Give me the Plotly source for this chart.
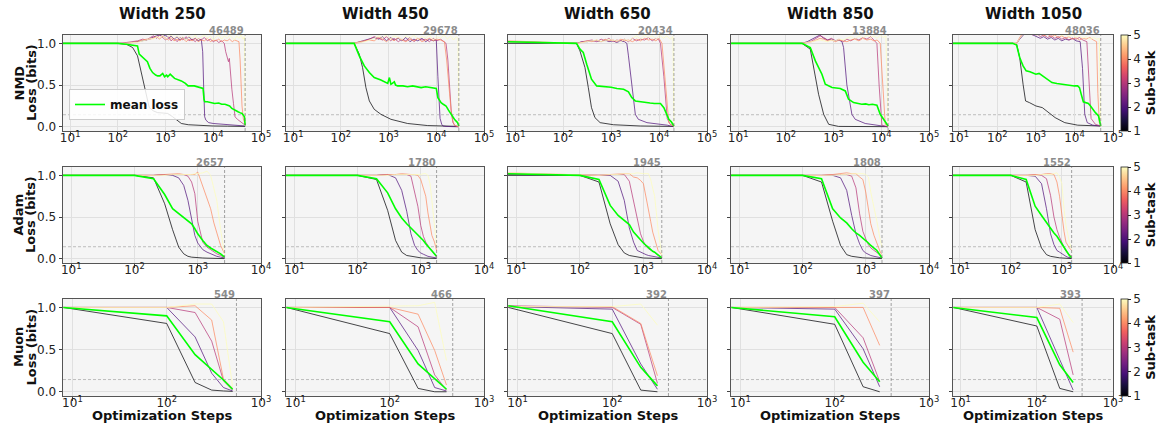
import math
import plotly.graph_objects as go

# ---------------- data ----------------
widths = [250, 450, 650, 850, 1050]
optimizers = ["NMD", "Adam", "Muon"]
subtasks = [1, 2, 3, 4, 5]
nmd_final = [46489, 29678, 20434, 13884, 48036]
adam_final = [2657, 1780, 1945, 1808, 1552]
muon_final = [549, 466, 392, 397, 393]
threshold = 0.145

# NMD, width 250
nmd250_grid = [7, 100, 150, 200, 260, 330, 400, 480, 560, 650, 750, 870, 1000, 1150, 1300, 1500, 1750, 2000, 2300, 2700, 3100, 3600, 4200, 4800, 5600]
nmd250_s1_x = [7, 100, 150, 204, 258, 330, 390, 455, 560, 680, 900, 1110, 1410, 1700, 2140, 3000, 5600, 10000, 20000, 46489]
nmd250_s1_y = [1.0, 1.0, 0.99, 0.95, 0.85, 0.59, 0.39, 0.23, 0.19, 0.17, 0.165, 0.16, 0.12, 0.08, 0.04, 0.025, 0.015, 0.01, 0.008, 0.005]
nmd250_s2_x = nmd250_grid + [6000, 6300, 6600, 7000, 8000, 10000, 15000, 25000, 46489]
nmd250_s2_y = [1.0, 1.0, 1.0, 1.01, 1.02, 1.03, 1.04, 1.06, 1.08, 1.09, 1.1, 1.08, 1.1, 1.06, 1.09, 1.05, 1.08, 1.04, 1.07, 1.05, 1.08, 1.04, 1.06, 1.03, 1.05,
               0.9, 0.45, 0.12, 0.08, 0.05, 0.04, 0.03, 0.02, 0.01]
nmd250_s3_x = nmd250_grid + [6500, 7500, 8700, 10000, 11500, 13000, 15000, 17000, 18200, 19500, 20800, 21700, 22600, 23500, 24500, 26500, 28600, 32000, 36000, 40000, 46489]
nmd250_s3_y = [1.0, 1.0, 1.01, 1.02, 1.03, 1.05, 1.04, 1.07, 1.09, 1.06, 1.1, 1.07, 1.04, 1.08, 1.03, 1.06, 1.02, 1.07, 1.04, 1.08, 1.03, 1.05, 1.02, 1.06, 1.04,
               1.07, 1.03, 1.05, 1.02, 1.04, 1.01, 1.03, 1.0, 0.9, 0.85, 0.78, 0.82, 0.65, 0.6, 0.45, 0.28, 0.12, 0.09, 0.07, 0.05, 0.02]
nmd250_s4_x = nmd250_grid + [6500, 7500, 8700, 10000, 11500, 13000, 15000, 17000, 19500, 22000, 25000, 28000, 31000, 34500, 36500, 38000, 40000, 42500, 46489]
nmd250_s4_y = [1.0, 1.0, 1.0, 1.01, 1.02, 1.04, 1.05, 1.05, 1.07, 1.08, 1.05, 1.09, 1.06, 1.04, 1.07, 1.03, 1.05, 1.03, 1.06, 1.02, 1.05, 1.03, 1.06, 1.02, 1.04,
               1.03, 1.06, 1.02, 1.04, 1.03, 1.05, 1.02, 1.04, 1.03, 1.05, 1.02, 1.04, 1.03, 1.02, 0.8, 0.5, 0.25, 0.1, 0.02]
nmd250_s5_x = nmd250_grid + [6500, 7500, 8700, 10000, 11500, 13000, 15000, 17000, 19500, 22000, 25000, 28000, 31000, 34500, 38000, 42000, 45000, 46489]
nmd250_s5_y = [1.0, 1.0, 1.0, 1.01, 1.01, 1.03, 1.04, 1.06, 1.05, 1.08, 1.07, 1.09, 1.05, 1.08, 1.1, 1.06, 1.09, 1.05, 1.08, 1.04, 1.09, 1.06, 1.1, 1.05, 1.08,
               1.1, 1.06, 1.09, 1.04, 1.08, 1.1, 1.05, 1.09, 1.06, 1.1, 1.07, 1.04, 1.09, 1.06, 1.1, 1.05, 1.08, 0.01]
nmd250_mean_x = [7, 100, 150, 200, 258, 280, 330, 380, 416, 470, 535, 620, 680, 760, 870, 950, 1050, 1110, 1250, 1540, 2140, 2600, 2960, 4000, 4800,
                 5800, 6100, 6400, 6600, 7500, 8500, 10700, 13000, 15000, 17600, 20000, 22000, 24500, 27000, 29000, 33000, 36000, 40000, 42500, 45000, 46489]
nmd250_mean_y = [1.0, 1.0, 0.99, 0.98, 0.97, 0.87, 0.83, 0.8, 0.78, 0.7, 0.65, 0.62, 0.61, 0.61, 0.64, 0.6, 0.62, 0.6, 0.63, 0.58, 0.55, 0.52, 0.49, 0.49, 0.48,
                 0.47, 0.46, 0.33, 0.3, 0.3, 0.29, 0.28, 0.285, 0.27, 0.27, 0.26, 0.25, 0.22, 0.21, 0.2, 0.18, 0.17, 0.16, 0.14, 0.12, 0.02]

# NMD, width 450
nmd450_grid = [7, 100, 190, 250, 320, 400, 500, 620, 750, 900, 1100, 1300, 1600, 1900, 2300, 2800, 3400, 4100, 5000, 6000, 7200, 8600]
nmd450_s1_x = [7, 100, 190, 243, 285, 335, 395, 500, 690, 1120, 2500, 6600, 15000, 29678]
nmd450_s1_y = [1.0, 1.0, 1.0, 0.87, 0.71, 0.47, 0.31, 0.21, 0.15, 0.09, 0.04, 0.015, 0.008, 0.005]
nmd450_s2_x = nmd450_grid + [10000, 10800, 12000, 13000, 13800, 16000, 20000, 29678]
nmd450_s2_y = [1.0, 1.0, 1.0, 1.02, 1.04, 1.06, 1.07, 1.05, 1.08, 1.03, 1.07, 1.04, 1.06, 1.03, 1.07, 1.02, 1.05, 1.03, 1.06, 1.02, 1.05, 1.03,
               1.04, 0.6, 0.1, 0.03, 0.01, 0.005, 0.0, 0.0]
nmd450_s3_x = nmd450_grid + [10300, 12300, 14500, 16000, 17500, 19000, 20500, 22300, 25000, 29678]
nmd450_s3_y = [1.0, 1.0, 1.0, 1.01, 1.03, 1.05, 1.08, 1.06, 1.04, 1.08, 1.03, 1.06, 1.02, 1.05, 1.03, 1.07, 1.02, 1.06, 1.04, 1.05, 1.02, 1.06,
               1.03, 1.05, 1.02, 1.0, 0.8, 0.5, 0.2, 0.05, 0.01, 0.0]
nmd450_s4_x = nmd450_grid + [10300, 12300, 14800, 16500, 17500, 19000, 20400, 22000, 24000, 29678]
nmd450_s4_y = [1.0, 1.0, 1.0, 1.02, 1.03, 1.04, 1.03, 1.07, 1.05, 1.02, 1.06, 1.03, 1.07, 1.04, 1.02, 1.05, 1.03, 1.06, 1.02, 1.04, 1.06, 1.03,
               1.05, 1.04, 1.02, 0.8, 0.6, 0.4, 0.2, 0.08, 0.02, 0.0]
nmd450_s5_x = nmd450_grid + [10300, 12300, 14500, 17000, 20000, 23000, 26000, 28500, 29678]
nmd450_s5_y = [1.0, 1.0, 1.0, 1.01, 1.02, 1.04, 1.06, 1.09, 1.07, 1.1, 1.05, 1.09, 1.07, 1.04, 1.09, 1.06, 1.1, 1.05, 1.08, 1.06, 1.1, 1.04,
               1.08, 1.06, 1.1, 1.05, 1.09, 1.04, 1.08, 1.06, 0.0]
nmd450_mean_x = [7, 100, 190, 243, 310, 395, 500, 690, 960, 1040, 1080, 1120, 1200, 1320, 1400, 1550, 2000, 2500, 3200, 4000,
                 4800, 6000, 7500, 9000, 10000, 10800, 12600, 14000, 16000, 18000, 20400, 24000, 28000, 29678]
nmd450_mean_y = [1.0, 1.0, 1.0, 0.85, 0.73, 0.65, 0.59, 0.56, 0.52, 0.59, 0.53, 0.51, 0.52, 0.54, 0.5, 0.49, 0.49, 0.48, 0.49, 0.48,
                 0.47, 0.48, 0.47, 0.46, 0.46, 0.35, 0.29, 0.27, 0.25, 0.2, 0.15, 0.09, 0.05, 0.01]

# NMD, width 650
nmd650_grid = [7, 100, 190, 250, 320, 400, 500, 620, 750, 900, 1100, 1300, 1600, 1900]
nmd650_grid2 = nmd650_grid + [2300, 2800, 3400, 4100, 5000, 6000, 7200, 8600]
nmd650_s1_x = [7, 100, 190, 224, 285, 335, 390, 460, 590, 1120, 4050, 20434]
nmd650_s1_y = [1.0, 1.0, 1.0, 0.91, 0.71, 0.47, 0.23, 0.11, 0.05, 0.025, 0.01, 0.005]
nmd650_s2_x = nmd650_grid + [2130, 2300, 2700, 3200, 3700, 5600, 14800, 20434]
nmd650_s2_y = [1.02, 1.0, 1.0, 1.02, 1.02, 1.03, 1.03, 1.02, 1.04, 1.02, 1.03, 1.01, 1.03, 1.02,
               1.0, 0.85, 0.51, 0.15, 0.09, 0.05, 0.02, 0.0]
nmd650_s3_x = nmd650_grid2 + [10000, 10700, 12600, 14800, 17000, 20434]
nmd650_s3_y = [1.02, 1.0, 1.0, 1.02, 1.03, 1.04, 1.02, 1.05, 1.03, 1.06, 1.02, 1.04, 1.03, 1.05,
               1.02, 1.06, 1.03, 1.05, 1.04, 1.07, 1.03, 1.06, 1.04, 1.0, 0.6, 0.1, 0.03, 0.01]
nmd650_s4_x = nmd650_grid2 + [10000, 11500, 13600, 16000, 18000, 20434]
nmd650_s4_y = [1.03, 1.0, 1.0, 1.01, 1.03, 1.02, 1.04, 1.02, 1.05, 1.03, 1.04, 1.02, 1.05, 1.03,
               1.04, 1.02, 1.05, 1.03, 1.06, 1.04, 1.05, 1.03, 1.06, 1.0, 0.5, 0.05, 0.02, 0.01]
nmd650_s5_x = nmd650_grid2 + [10300, 12300, 14500, 17000, 19500, 20434]
nmd650_s5_y = [1.02, 1.0, 1.0, 1.01, 1.02, 1.03, 1.04, 1.02, 1.03, 1.05, 1.03, 1.04, 1.02, 1.05,
               1.03, 1.06, 1.09, 1.05, 1.1, 1.07, 1.09, 1.05, 1.1, 1.06, 1.09, 1.05, 1.08, 0.0]
nmd650_mean_x = [7, 100, 190, 224, 263, 310, 390, 500, 650, 810, 1000, 1320, 1820, 2300, 2700, 3200, 4050, 5000, 6500, 8000,
                 10000, 10700, 12600, 14000, 16000, 18000, 20434]
nmd650_mean_y = [1.02, 1.0, 1.0, 0.93, 0.89, 0.75, 0.57, 0.49, 0.485, 0.48, 0.475, 0.46, 0.45, 0.42, 0.35, 0.31, 0.3, 0.29, 0.285, 0.28,
                 0.28, 0.28, 0.23, 0.16, 0.09, 0.06, 0.01]

# NMD, width 850
nmd850_grid = [7, 100, 218, 280, 350, 430, 520, 620, 750, 900, 1100, 1300]
nmd850_grid2 = nmd850_grid + [1600, 1900, 2300, 2800, 3400, 4100, 5000, 6000, 7000]
nmd850_s1_x = [7, 100, 218, 325, 380, 485, 620, 790, 1270, 3000, 13884]
nmd850_s1_y = [1.0, 1.0, 1.0, 0.93, 0.71, 0.39, 0.15, 0.03, 0.005, 0.003, 0.002]
nmd850_s2_x = nmd850_grid + [1500, 1620, 1900, 2420, 2840, 4600, 10300, 13884]
nmd850_s2_y = [1.0, 1.0, 1.0, 1.02, 1.05, 1.08, 1.1, 1.06, 1.04, 1.05, 1.03, 1.04,
               1.02, 0.95, 0.5, 0.15, 0.09, 0.04, 0.01, 0.0]
nmd850_s3_x = nmd850_grid2 + [8100, 9000, 10300, 12000, 13884]
nmd850_s3_y = [1.0, 1.0, 1.0, 1.01, 1.03, 1.06, 1.09, 1.07, 1.04, 1.06, 1.03, 1.05,
               1.02, 1.05, 1.03, 1.06, 1.04, 1.07, 1.05, 1.08, 1.04, 1.0, 0.5, 0.02, 0.01, 0.0]
nmd850_s4_x = nmd850_grid2 + [8200, 9500, 10700, 12100, 13884]
nmd850_s4_y = [1.0, 1.0, 1.0, 1.01, 1.02, 1.04, 1.06, 1.05, 1.03, 1.04, 1.02, 1.04,
               1.03, 1.02, 1.04, 1.05, 1.03, 1.06, 1.04, 1.05, 1.03, 1.04, 1.0, 0.5, 0.03, 0.01]
nmd850_s5_x = nmd850_grid2 + [8200, 9500, 11000, 12500, 13884]
nmd850_s5_y = [1.0, 1.0, 1.0, 1.01, 1.02, 1.03, 1.04, 1.03, 1.02, 1.04, 1.03, 1.05,
               1.04, 1.06, 1.08, 1.05, 1.09, 1.06, 1.1, 1.07, 1.09, 1.06, 1.1, 1.07, 1.09, 0.0]
nmd850_mean_x = [7, 100, 218, 325, 415, 570, 670, 930, 1380, 1760, 2060, 2630, 3200, 3900, 4700, 5500, 6500, 8100, 9500, 12100, 13884]
nmd850_mean_y = [1.0, 1.0, 1.0, 0.95, 0.79, 0.63, 0.51, 0.47, 0.46, 0.43, 0.33, 0.29, 0.28, 0.27, 0.275, 0.265, 0.27, 0.26, 0.15, 0.07, 0.01]

# NMD, width 1050
nmd1050_grid = [7, 100, 250, 316, 380, 465, 540, 680, 850, 1050, 1300, 1600, 2000, 2500, 3100, 3800, 4700, 5800, 7200, 8900, 11000]
nmd1050_s1_x = [7, 100, 250, 316, 380, 465, 540, 680, 1000, 1470, 2150, 3160, 5600, 12100, 48036]
nmd1050_s1_y = [1.0, 1.0, 1.0, 0.99, 0.83, 0.51, 0.31, 0.29, 0.25, 0.23, 0.17, 0.11, 0.05, 0.02, 0.01]
nmd1050_s2_x = nmd1050_grid + [14100, 16200, 18500, 21500, 30000, 48036]
nmd1050_s2_y = [1.0, 1.0, 1.0, 1.0, 1.05, 1.1, 1.13, 1.12, 1.1, 1.08, 1.06, 1.08, 1.05, 1.07, 1.04, 1.06, 1.03, 1.05, 1.04, 1.06, 1.03,
                1.02, 0.7, 0.15, 0.05, 0.02, 0.01]
nmd1050_s3_x = nmd1050_grid + [13500, 16500, 21000, 23800, 27000, 35000, 48036]
nmd1050_s3_y = [1.0, 1.0, 1.0, 1.0, 1.06, 1.12, 1.14, 1.12, 1.1, 1.12, 1.08, 1.1, 1.07, 1.09, 1.06, 1.08, 1.05, 1.07, 1.04, 1.06, 1.05,
                1.07, 1.04, 1.02, 0.5, 0.1, 0.03, 0.01]
nmd1050_s4_x = nmd1050_grid + [13500, 16500, 20000, 25000, 31000, 37500, 40500, 44000, 48036]
nmd1050_s4_y = [1.0, 1.0, 1.0, 1.0, 1.07, 1.13, 1.15, 1.14, 1.12, 1.1, 1.12, 1.09, 1.11, 1.08, 1.1, 1.07, 1.09, 1.06, 1.08, 1.05, 1.07,
                1.04, 1.06, 1.05, 1.07, 1.04, 1.02, 0.4, 0.05, 0.02]
nmd1050_s5_x = nmd1050_grid + [13500, 16500, 20000, 25000, 31000, 38000, 44000, 48036]
nmd1050_s5_y = [1.0, 1.0, 1.0, 1.0, 1.06, 1.12, 1.15, 1.15, 1.14, 1.13, 1.12, 1.14, 1.11, 1.13, 1.1, 1.12, 1.09, 1.11, 1.08, 1.1, 1.07,
                1.09, 1.06, 1.08, 1.05, 1.07, 1.05, 1.06, 0.0]
nmd1050_mean_x = [7, 100, 250, 316, 380, 465, 560, 700, 830, 1000, 1210, 1500, 1780, 2200, 2610, 3500, 4640, 7000, 10000, 12100,
                  13500, 15200, 17000, 19600, 23000, 26100, 30000, 35000, 42200, 48036]
nmd1050_mean_y = [1.0, 1.0, 1.0, 0.98, 0.83, 0.73, 0.67, 0.66, 0.65, 0.63, 0.64, 0.61, 0.59, 0.55, 0.53, 0.52, 0.51, 0.5, 0.49, 0.49,
                  0.47, 0.38, 0.3, 0.29, 0.28, 0.25, 0.21, 0.17, 0.13, 0.01]

# Adam
adam250_x = [7, 100, 200, 300, 400, 500, 600, 700, 800, 900, 1000, 1200, 1400, 1600, 1800, 2000, 2300, 2657]
adam250_s1 = [1.0, 1.0, 0.97, 0.66, 0.35, 0.14, 0.06, 0.03, 0.02, 0.015, 0.012, 0.01, 0.008, 0.007, 0.006, 0.005, 0.004, 0.003]
adam250_s2 = [1.0, 1.0, 1.0, 1.01, 1.0, 0.97, 0.88, 0.7, 0.45, 0.28, 0.19, 0.11, 0.08, 0.06, 0.04, 0.03, 0.02, 0.01]
adam250_s3 = [1.0, 1.0, 1.0, 1.01, 1.01, 1.01, 1.01, 0.99, 0.92, 0.78, 0.45, 0.2, 0.14, 0.11, 0.08, 0.06, 0.04, 0.02]
adam250_s4 = [1.0, 1.0, 1.0, 1.01, 1.02, 1.02, 1.01, 1.01, 1.01, 1.01, 1.04, 0.86, 0.72, 0.6, 0.43, 0.3, 0.16, 0.06]
adam250_s5 = [1.0, 1.0, 1.0, 1.0, 1.01, 1.01, 1.01, 1.01, 1.01, 1.02, 1.02, 1.03, 1.05, 1.0, 0.85, 0.7, 0.35, 0.05]
adam250_mean = [1.0, 1.0, 0.96, 0.77, 0.6, 0.54, 0.5, 0.46, 0.42, 0.36, 0.3, 0.22, 0.16, 0.13, 0.11, 0.09, 0.06, 0.02]

adam450_x = [7, 100, 200, 300, 400, 500, 600, 700, 800, 900, 1000, 1100, 1200, 1300, 1400, 1500, 1650, 1780]
adam450_s1 = [1.0, 1.0, 0.95, 0.58, 0.22, 0.08, 0.04, 0.03, 0.02, 0.015, 0.012, 0.01, 0.009, 0.008, 0.007, 0.006, 0.005, 0.004]
adam450_s2 = [1.0, 1.0, 1.0, 1.01, 0.97, 0.82, 0.57, 0.3, 0.16, 0.1, 0.07, 0.055, 0.04, 0.03, 0.025, 0.02, 0.015, 0.01]
adam450_s3 = [1.0, 1.0, 1.0, 1.01, 1.01, 1.01, 1.01, 0.99, 0.8, 0.63, 0.4, 0.27, 0.2, 0.15, 0.12, 0.1, 0.05, 0.02]
adam450_s4 = [1.0, 1.0, 1.0, 1.01, 1.01, 1.02, 1.01, 1.01, 1.01, 1.0, 0.95, 0.85, 0.75, 0.55, 0.38, 0.28, 0.2, 0.1]
adam450_s5 = [1.0, 1.0, 1.0, 1.0, 1.01, 1.01, 1.01, 1.01, 1.01, 1.01, 1.01, 1.02, 1.02, 1.0, 0.9, 0.7, 0.4, 0.15]
adam450_mean = [1.0, 1.0, 0.96, 0.79, 0.6, 0.49, 0.42, 0.37, 0.33, 0.29, 0.26, 0.22, 0.18, 0.15, 0.12, 0.09, 0.06, 0.03]

adam650_x = [7, 100, 200, 300, 400, 500, 600, 700, 800, 900, 1000, 1100, 1200, 1300, 1400, 1500, 1600, 1700, 1945]
adam650_s1 = [1.0, 1.0, 0.92, 0.42, 0.17, 0.07, 0.04, 0.03, 0.02, 0.015, 0.01, 0.009, 0.008, 0.007, 0.006, 0.005, 0.004, 0.004, 0.003]
adam650_s2 = [1.01, 1.0, 1.0, 1.0, 0.93, 0.7, 0.37, 0.2, 0.1, 0.08, 0.06, 0.05, 0.04, 0.035, 0.03, 0.025, 0.02, 0.015, 0.01]
adam650_s3 = [1.02, 1.0, 1.0, 1.01, 1.01, 1.01, 0.93, 0.7, 0.5, 0.3, 0.21, 0.15, 0.12, 0.1, 0.09, 0.08, 0.06, 0.04, 0.02]
adam650_s4 = [1.03, 1.0, 1.0, 1.01, 1.02, 1.02, 1.02, 0.98, 0.97, 0.94, 0.9, 0.75, 0.6, 0.45, 0.32, 0.24, 0.15, 0.1, 0.05]
adam650_s5 = [1.03, 1.0, 1.0, 1.01, 1.01, 1.02, 1.02, 1.02, 1.03, 1.02, 1.02, 1.02, 1.02, 0.95, 0.85, 0.75, 0.55, 0.35, 0.03]
adam650_mean = [1.02, 1.0, 0.95, 0.64, 0.52, 0.46, 0.41, 0.32, 0.27, 0.22, 0.19, 0.16, 0.13, 0.11, 0.09, 0.08, 0.06, 0.04, 0.01]

adam850_x = [7, 100, 200, 300, 400, 500, 600, 700, 800, 900, 1000, 1100, 1200, 1350, 1500, 1700, 1808]
adam850_s1 = [1.0, 1.0, 0.92, 0.45, 0.16, 0.05, 0.03, 0.02, 0.015, 0.012, 0.01, 0.008, 0.007, 0.006, 0.005, 0.004, 0.003]
adam850_s2 = [1.0, 1.0, 1.0, 1.0, 0.97, 0.82, 0.52, 0.3, 0.18, 0.1, 0.07, 0.05, 0.04, 0.03, 0.02, 0.015, 0.01]
adam850_s3 = [1.0, 1.0, 1.0, 1.01, 1.01, 1.01, 0.99, 0.85, 0.54, 0.33, 0.24, 0.17, 0.13, 0.1, 0.07, 0.04, 0.03]
adam850_s4 = [1.0, 1.0, 1.0, 1.01, 1.02, 1.03, 1.02, 1.02, 0.98, 0.95, 0.8, 0.6, 0.42, 0.28, 0.18, 0.08, 0.05]
adam850_s5 = [1.0, 1.0, 1.0, 1.0, 1.01, 1.01, 1.02, 1.02, 1.02, 1.02, 1.01, 0.98, 0.8, 0.62, 0.45, 0.22, 0.14]
adam850_mean = [1.0, 1.0, 0.96, 0.6, 0.49, 0.43, 0.36, 0.31, 0.28, 0.25, 0.22, 0.19, 0.16, 0.13, 0.1, 0.04, 0.01]

adam1050_x = [7, 100, 200, 300, 400, 500, 600, 700, 800, 900, 1000, 1100, 1200, 1300, 1400, 1552]
adam1050_s1 = [1.0, 1.0, 0.92, 0.35, 0.13, 0.05, 0.03, 0.02, 0.015, 0.012, 0.01, 0.008, 0.007, 0.005, 0.004, 0.003]
adam1050_s2 = [1.0, 1.0, 1.0, 0.99, 0.9, 0.6, 0.3, 0.17, 0.1, 0.08, 0.06, 0.04, 0.03, 0.02, 0.015, 0.01]
adam1050_s3 = [1.0, 1.0, 1.0, 1.01, 1.0, 0.96, 0.76, 0.5, 0.35, 0.26, 0.2, 0.14, 0.09, 0.07, 0.05, 0.03]
adam1050_s4 = [1.0, 1.0, 1.0, 1.01, 1.01, 1.02, 1.02, 1.01, 0.92, 0.75, 0.5, 0.33, 0.2, 0.16, 0.13, 0.1]
adam1050_s5 = [1.0, 1.0, 1.0, 1.0, 1.01, 1.01, 1.01, 1.02, 1.03, 0.98, 0.9, 0.6, 0.4, 0.3, 0.2, 0.12]
adam1050_mean = [1.0, 1.0, 0.95, 0.63, 0.52, 0.43, 0.37, 0.31, 0.27, 0.22, 0.18, 0.14, 0.1, 0.07, 0.04, 0.015]

# Muon
muon250_x = [8, 100, 200, 300, 400, 500]
muon250_s1 = [1.0, 0.81, 0.11, 0.02, 0.01, 0.005]
muon250_s2 = [1.0, 1.0, 0.65, 0.22, 0.05, 0.01]
muon250_s3 = [1.0, 1.0, 0.94, 0.6, 0.13, 0.02]
muon250_s4 = [1.0, 1.0, 1.02, 0.85, 0.15, 0.04]
muon250_s5 = [1.0, 1.0, 1.04, 1.04, 0.83, 0.06]
muon250_mean = [1.0, 0.9, 0.44, 0.27, 0.14, 0.03]

muon450_x = [8, 100, 200, 300, 400]
muon450_s1 = [1.0, 0.69, 0.04, 0.0, 0.0]
muon450_s2 = [1.0, 1.0, 0.49, 0.05, 0.01]
muon450_s3 = [1.0, 1.0, 0.77, 0.2, 0.02]
muon450_s4 = [1.0, 1.0, 0.92, 0.49, 0.08]
muon450_s5 = [1.0, 1.01, 1.02, 1.06, 0.37]
muon450_mean = [1.0, 0.83, 0.33, 0.15, 0.03]

muon650_x = [8, 100, 200, 300]
muon650_s1 = [1.0, 0.69, 0.02, 0.0]
muon650_s2 = [1.01, 0.98, 0.33, 0.03]
muon650_s3 = [1.02, 1.0, 0.8, 0.1]
muon650_s4 = [1.01, 1.01, 0.81, 0.19]
muon650_s5 = [1.01, 1.01, 1.04, 0.79]
muon650_mean = [1.02, 0.83, 0.29, 0.07]

muon850_x = [8, 100, 200, 300]
muon850_s1 = [1.0, 0.8, 0.06, 0.0]
muon850_s2 = [1.0, 0.98, 0.51, 0.06]
muon850_s3 = [1.0, 1.0, 0.64, 0.12]
muon850_s4 = [1.0, 1.0, 1.0, 0.55]
muon850_s5 = [1.0, 1.01, 1.05, 0.83]
muon850_mean = [1.0, 0.89, 0.35, 0.12]

muon1050_x = [8, 100, 200, 300]
muon1050_s1 = [1.0, 0.78, 0.04, 0.0]
muon1050_s2 = [1.0, 1.0, 0.38, 0.02]
muon1050_s3 = [1.0, 1.0, 0.86, 0.2]
muon1050_s4 = [1.0, 1.0, 0.99, 0.47]
muon1050_s5 = [1.0, 1.0, 1.04, 0.82]
muon1050_mean = [1.0, 0.88, 0.32, 0.11]

# ---------------- helpers ----------------
G = globals()


def panel_curves(opt, w):
    key = f"{opt.lower()}{w}"
    subs = []
    for k in subtasks:
        if opt == "NMD":
            subs.append((G[f"{key}_s{k}_x"], G[f"{key}_s{k}_y"]))
        else:
            subs.append((G[f"{key}_x"], G[f"{key}_s{k}"]))
    if opt == "NMD":
        mean = (G[f"{key}_mean_x"], G[f"{key}_mean_y"])
    else:
        mean = (G[f"{key}_x"], G[f"{key}_mean"])
    for xs, ys in subs + [mean]:
        if len(xs) != len(ys):
            raise ValueError(f"length mismatch in {key}: {len(xs)} vs {len(ys)}")
    return subs, mean


# ---------------- style / layout constants ----------------
W, H = 1158, 432
col_left = [63, 286, 508, 731, 953]
col_right = [261, 484, 707, 929, 1113]
row_top = [35, 167, 299]
row_bottom = [131, 263, 396]
x_ranges = [[0.85, 5.0], [0.87, 4.0], [0.9, 3.0]]
x_tick_exps = [[1, 2, 3, 4, 5], [1, 2, 3, 4], [1, 2, 3]]
y_range = [-0.05, 1.1]
FONT = "DejaVu Sans"
SUB_COLORS = ["rgba(0,0,4,0.72)", "rgba(81,18,124,0.72)", "rgba(183,55,121,0.72)",
              "rgba(252,137,97,0.72)", "rgba(252,253,191,0.8)"]
MEAN_COLOR = "#00ff00"
finals_by_opt = {"NMD": nmd_final, "Adam": adam_final, "Muon": muon_final}

fig = go.Figure()
layout_axes = {}
annotations = []
shapes = []

for r, opt in enumerate(optimizers):
    finals = finals_by_opt[opt]
    for c, w in enumerate(widths):
        i = r * 5 + c + 1
        xa = "x" if i == 1 else f"x{i}"
        ya = "y" if i == 1 else f"y{i}"
        xkey = "xaxis" if i == 1 else f"xaxis{i}"
        ykey = "yaxis" if i == 1 else f"yaxis{i}"
        subs, mean = panel_curves(opt, w)
        for k, (xs, ys) in zip(subtasks, subs):
            fig.add_trace(go.Scatter(x=xs, y=ys, mode="lines",
                                     line=dict(color=SUB_COLORS[k - 1], width=1.0),
                                     xaxis=xa, yaxis=ya, showlegend=False, hoverinfo="skip"))
        fig.add_trace(go.Scatter(x=mean[0], y=mean[1], mode="lines",
                                 line=dict(color=MEAN_COLOR, width=1.6),
                                 name="<b>mean loss</b>", showlegend=(i == 1),
                                 xaxis=xa, yaxis=ya, hoverinfo="skip"))
        end = finals[c]
        fig.add_trace(go.Scatter(x=[end, end], y=y_range, mode="lines",
                                 line=dict(color="rgba(120,120,120,0.85)", width=0.8, dash="3px,2px"),
                                 xaxis=xa, yaxis=ya, showlegend=False, hoverinfo="skip"))
        shapes.append(dict(type="line", xref=f"{xa} domain", x0=0, x1=1, yref=ya,
                           y0=threshold, y1=threshold,
                           line=dict(color="rgba(150,150,150,0.75)", width=0.8, dash="3px,2px"),
                           layer="below"))
        annotations.append(dict(text=f"<b>{end}</b>", x=math.log10(end), xref=xa,
                                y=1 - row_top[r] / H, yref="paper", xanchor="right", yanchor="bottom",
                                showarrow=False, yshift=-2, borderpad=0,
                                font=dict(family=FONT, size=10, color="#8c8c8c")))
        exps = x_tick_exps[r]
        layout_axes[xkey] = dict(
            domain=[col_left[c] / W, col_right[c] / W], anchor=ya, type="log",
            range=x_ranges[r], tickvals=[10 ** e for e in exps],
            ticktext=[f"10<sup>{e}</sup>" for e in exps],
            showgrid=True, gridcolor="#e0e0e0", gridwidth=0.8,
            showline=True, linecolor="#555", linewidth=1, mirror=True,
            ticks="outside", ticklen=3.5, tickcolor="#444", ticklabelstandoff=-8,
            tickfont=dict(family=FONT, size=12, color="#222"), zeroline=False)
        layout_axes[ykey] = dict(
            domain=[1 - row_bottom[r] / H, 1 - row_top[r] / H], anchor=xa,
            range=y_range, tickvals=[0.0, 0.5, 1.0], ticktext=["0.0", "0.5", "1.0"],
            showticklabels=(c == 0),
            showgrid=True, gridcolor="#e0e0e0", gridwidth=0.8,
            showline=True, linecolor="#555", linewidth=1, mirror=True,
            ticks="outside", ticklen=3.5, tickcolor="#444",
            tickfont=dict(family=FONT, size=12, color="#222"), zeroline=False)

    # helper trace to show this row's colour bar
    last = r * 5 + 5
    cax = "coloraxis" if r == 0 else f"coloraxis{r + 1}"
    fig.add_trace(go.Scatter(x=[finals[-1]], y=[0.5], mode="markers",
                             marker=dict(color=[subtasks[0]], coloraxis=cax, size=1, opacity=0),
                             xaxis=f"x{last}", yaxis=f"y{last}", showlegend=False, hoverinfo="skip"))
    layout_axes[cax] = dict(
        colorscale="Magma", cmin=subtasks[0], cmax=subtasks[-1], showscale=True,
        colorbar=dict(x=1121 / W, xanchor="left", y=1 - (row_top[r] + row_bottom[r]) / 2 / H,
                      yanchor="middle", len=(row_bottom[r] - row_top[r]) / H, lenmode="fraction",
                      thickness=7, thicknessmode="pixels", xpad=0, ypad=0,
                      outlinewidth=0.8, outlinecolor="#222",
                      tickvals=subtasks, ticks="outside", ticklen=3, tickcolor="#222",
                      tickfont=dict(family=FONT, size=12, color="#222"),
                      title=dict(text="<b>Sub-task</b>", side="right",
                                 font=dict(family=FONT, size=13, color="#111"))))

    # row labels
    yc = 1 - (row_top[r] + row_bottom[r]) / 2 / H
    annotations.append(dict(text=f"<b>{opt}</b>", x=18.5 / W, y=yc, xref="paper", yref="paper",
                            textangle=-90, showarrow=False, xanchor="center", yanchor="middle",
                            font=dict(family=FONT, size=13, color="#111")))
    annotations.append(dict(text="<b>Loss (bits)</b>", x=31 / W, y=yc, xref="paper", yref="paper",
                            textangle=-90, showarrow=False, xanchor="center", yanchor="middle",
                            font=dict(family=FONT, size=13, color="#111")))

for c, w in enumerate(widths):
    xc = (col_left[c] + col_right[c]) / 2 / W
    annotations.append(dict(text=f"<b>Width {w}</b>", x=xc, y=1 - 14 / H, xref="paper", yref="paper",
                            showarrow=False, xanchor="center", yanchor="middle", borderpad=0,
                            font=dict(family=FONT, size=15, color="#111")))
    annotations.append(dict(text="<b>Optimization Steps</b>", x=xc, y=1 - 415 / H, xref="paper", yref="paper",
                            showarrow=False, xanchor="center", yanchor="middle",
                            font=dict(family=FONT, size=13, color="#111")))

fig.update_layout(
    width=W, height=H, autosize=False,
    margin=dict(l=0, r=0, t=0, b=0, pad=0, autoexpand=False),
    paper_bgcolor="white", plot_bgcolor="#f5f5f5",
    font=dict(family=FONT, size=12, color="#222"),
    showlegend=True,
    legend=dict(x=69 / W, y=1 - 89 / H, xanchor="left", yanchor="top",
                bgcolor="rgba(255,255,255,0.85)", bordercolor="#cccccc", borderwidth=1,
                font=dict(family=FONT, size=12, color="#111"), itemwidth=30,
                tracegroupgap=0),
    annotations=annotations, shapes=shapes,
    **layout_axes,
)

fig.write_html("out.html", config={"displayModeBar": False},
               post_script="document.body.style.margin='0';document.body.style.overflow='hidden';")
